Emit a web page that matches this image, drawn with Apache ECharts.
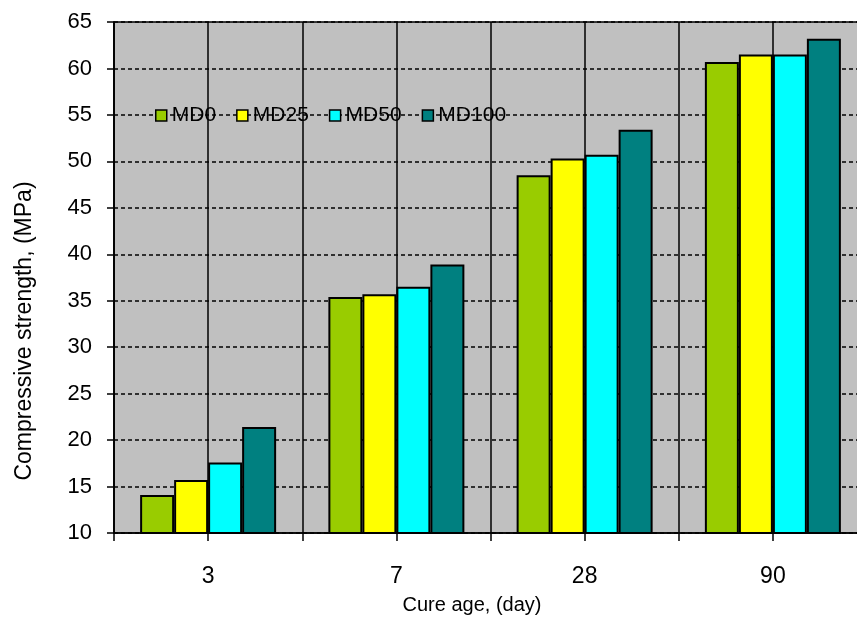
<!DOCTYPE html>
<html>
<head>
<meta charset="utf-8">
<title>Compressive strength</title>
<script src="https://cdn.jsdelivr.net/npm/echarts@6/dist/echarts.min.js"></script>
<style>
  html, body { margin: 0; padding: 0; background: #fff; }
  #chart { width: 857px; height: 617px; }
</style>
</head>
<body>
<div id="chart"></div>
<script>
// 数据
const ages = ["3", "7", "28", "90"];
const md0 = [14.1, 35.4, 48.5, 60.7];
const md25 = [15.7, 35.7, 50.3, 61.5];
const md50 = [17.6, 36.5, 50.7, 61.5];
const md100 = [21.4, 38.9, 53.4, 63.2];
const seriesNames = ["MD0", "MD25", "MD50", "MD100"];
const seriesColors = ["#99CC00", "#FFFF00", "#00FFFF", "#008080"];

const chart = echarts.init(document.getElementById("chart"), null, { renderer: "canvas" });
const font = "Liberation Sans, Arial, sans-serif";

function bar(name, data, color) {
    return {
        name: name,
        type: "bar",
        xAxisIndex: 0,
        data: data,
        barWidth: 34,
        barGap: "0%",
        itemStyle: { color: color, borderColor: "#000", borderWidth: 2 },
        animation: false
    };
}

const option = {
    animation: false,
    textStyle: { fontFamily: font },
    // 绘图区，右侧超出画面（原图被裁切）
    grid: {
        left: 114, top: 22, width: 753, height: 511,
        outerBoundsMode: "none",
        containLabel: false,
        show: true,
        backgroundColor: "#C0C0C0",
        borderColor: "#000",
        borderWidth: 1.5
    },
    legend: {
        data: seriesNames,
        left: 150,
        top: 100,
        icon: "rect",
        itemWidth: 11,
        itemHeight: 11,
        itemGap: 20,
        itemStyle: { borderWidth: 1.5 },
        textStyle: { fontSize: 21, color: "#000", fontFamily: font }
    },
    xAxis: [
        {
            type: "category",
            data: ages,
            position: "bottom",
            axisLine: { show: true, lineStyle: { color: "#000", width: 1.5 } },
            axisTick: { show: false },
            splitLine: { show: false },
            axisLabel: { interval: 0, margin: 32, fontSize: 23, color: "#000", fontFamily: font }
        },
        {
            // 半格刻度与竖向网格线
            type: "value",
            position: "bottom",
            min: 0, max: 8, interval: 1,
            axisLine: { show: false },
            axisTick: { show: true, length: 8, lineStyle: { color: "#000", width: 1.5 } },
            axisLabel: { show: false },
            splitLine: { show: true, lineStyle: { color: "#000", width: 1.5, type: "solid" } }
        }
    ],
    yAxis: {
        type: "value",
        min: 10, max: 65, interval: 5,
        axisLine: { show: true, lineStyle: { color: "#000", width: 1.5 } },
        axisTick: { show: true, length: 7, lineStyle: { color: "#000", width: 1.5 } },
        axisLabel: { margin: 22, fontSize: 22, color: "#000", fontFamily: font },
        splitLine: { show: true, lineStyle: { color: "#000", width: 1.5, type: [4, 3] } }
    },
    graphic: [
        {
            type: "text",
            x: 25, y: 331,
            rotation: Math.PI / 2,
            style: {
                text: "Compressive strength, (MPa)",
                font: "23px " + font,
                fill: "#000",
                textAlign: "center",
                textVerticalAlign: "middle"
            }
        },
        {
            type: "text",
            x: 472, y: 605,
            style: {
                text: "Cure age, (day)",
                font: "20px " + font,
                fill: "#000",
                textAlign: "center",
                textVerticalAlign: "middle"
            }
        }
    ],
    series: [
        bar(seriesNames[0], md0, seriesColors[0]),
        bar(seriesNames[1], md25, seriesColors[1]),
        bar(seriesNames[2], md50, seriesColors[2]),
        bar(seriesNames[3], md100, seriesColors[3])
    ]
};

chart.setOption(option);
</script>
</body>
</html>
